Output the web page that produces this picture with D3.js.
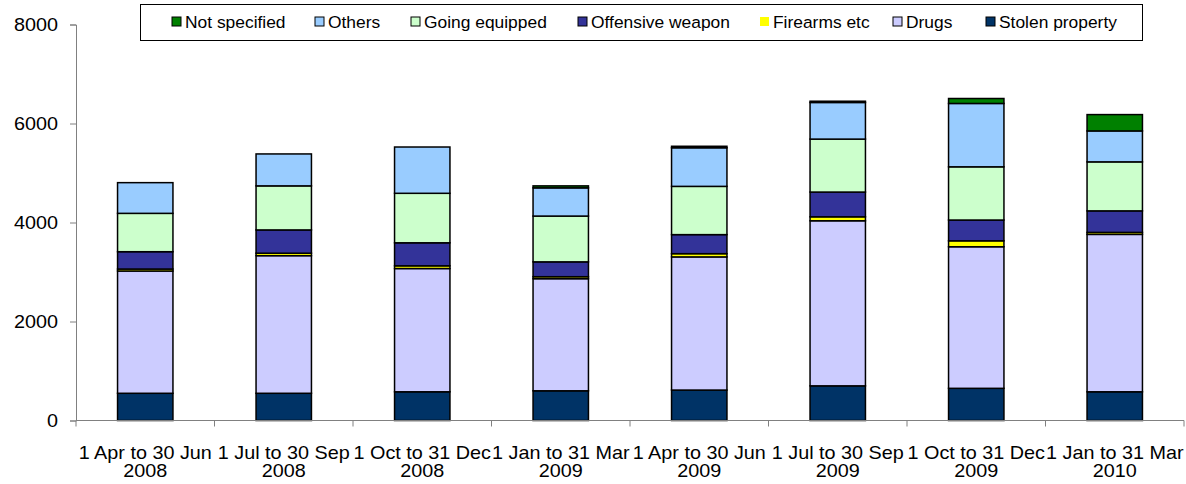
<!DOCTYPE html>
<html><head><meta charset="utf-8">
<script src="https://cdn.jsdelivr.net/npm/d3@7"></script>
<style>body{margin:0;background:#fff}svg{display:block;font-family:"Liberation Sans",Arial,sans-serif}</style>
</head><body><svg id="c" width="1186" height="484"></svg>
<script>
const categories = [["1 Apr to 30 Jun","2008"],["1 Jul to 30 Sep","2008"],["1 Oct to 31 Dec","2008"],["1 Jan to 31 Mar","2009"],["1 Apr to 30 Jun","2009"],["1 Jul to 30 Sep","2009"],["1 Oct to 31 Dec","2009"],["1 Jan to 31 Mar","2010"]];
const stolenProperty = [550, 550, 580, 600, 615, 700, 650, 580];
const drugs          = [2470, 2780, 2490, 2265, 2690, 3335, 2860, 3180];
const firearms       = [40, 50, 55, 40, 65, 80, 120, 40];
const offensiveWeapon= [350, 470, 465, 300, 385, 500, 420, 435];
const goingEquipped  = [775, 890, 1000, 925, 975, 1070, 1075, 990];
const others         = [620, 645, 935, 570, 780, 740, 1280, 625];
const notSpecified   = [0, 0, 0, 40, 30, 25, 100, 330];
const yTicks = [0, 2000, 4000, 6000, 8000];
const seriesNames = ["Stolen property","Drugs","Firearms etc","Offensive weapon","Going equipped","Others","Not specified"];
const seriesColors = ["#003366","#CCCCFF","#FFFF00","#333399","#CCFFCC","#99CCFF","#008000"];
const seriesValues = [stolenProperty, drugs, firearms, offensiveWeapon, goingEquipped, others, notSpecified];

const svg = d3.select("#c");
const mLeft = 76, mRight = 1184, mTop = 24.5, mBottom = 420.5;
const x = d3.scaleBand().domain(d3.range(categories.length)).range([mLeft, mRight]).paddingInner(0.6).paddingOuter(0.3);
const xb = d3.scaleBand().domain(d3.range(categories.length)).range([mLeft, mRight]);
const y = d3.scaleLinear().domain([0, 8000]).range([mBottom, mTop]);

const table = categories.map((c, i) => { const o = {i}; seriesNames.forEach((s, k) => o[s] = seriesValues[k][i]); return o; });
const stack = d3.stack().keys(seriesNames)(table);

svg.append("g").selectAll("g").data(stack).join("g")
  .attr("fill", (d, k) => seriesColors[k])
  .selectAll("rect").data(d => d.filter(p => p[1] - p[0] > 0)).join("rect")
  .attr("x", d => x(d.data.i)).attr("width", x.bandwidth())
  .attr("y", d => y(d[1])).attr("height", d => y(d[0]) - y(d[1]))
  .attr("stroke", "#000").attr("stroke-width", 1.5);

// y axis
const ya = svg.append("g").attr("transform", `translate(${mLeft},0)`)
  .call(d3.axisLeft(y).tickValues(yTicks).tickSize(6).tickPadding(12).tickFormat(d3.format("d")));
ya.selectAll("text").attr("font-size", 18).attr("fill", "#000")
  .attr("font-family", "Liberation Sans, Arial, sans-serif")
  .attr("x", -18 / 1.1).attr("transform", "scale(1.1,1)");
ya.select(".domain").attr("stroke", "#808080");
ya.selectAll(".tick line").attr("stroke", "#808080");

// x axis
const xg = svg.append("g").attr("transform", `translate(0,${mBottom})`);
xg.append("line").attr("x1", mLeft).attr("x2", mRight).attr("stroke", "#808080");
xg.selectAll("line.t").data(d3.range(categories.length + 1)).join("line").attr("class", "t")
  .attr("x1", i => mLeft + i * xb.step()).attr("x2", i => mLeft + i * xb.step())
  .attr("y1", 0).attr("y2", 6).attr("stroke", "#808080");
const lab = xg.selectAll("text").data(categories).join("text")
  .attr("text-anchor", "middle").attr("font-size", 18).attr("fill", "#000")
  .attr("transform", (d, i) => `translate(${xb(i) + xb.bandwidth() / 2},0) scale(1.1,1)`);
lab.append("tspan").attr("x", 0).attr("y", 39).text(d => d[0]);
lab.append("tspan").attr("x", 0).attr("y", 57).text(d => d[1]);

// legend
const lg = svg.append("g");
lg.append("rect").attr("x", 140.5).attr("y", 4.5).attr("width", 1002).attr("height", 36).attr("fill", "#fff").attr("stroke", "#000");
const legOrder = [6, 5, 4, 3, 2, 1, 0];
const legX = [185, 328, 424, 591, 773, 906, 999];
legOrder.forEach((k, j) => {
  lg.append("rect").attr("x", legX[j] - 13).attr("y", 17).attr("width", 9).attr("height", 9)
    .attr("fill", seriesColors[k]).attr("stroke", k === 2 ? "none" : "#000").attr("stroke-width", 1);
  lg.append("text").attr("x", legX[j]).attr("y", 28).attr("font-size", 17.4).attr("fill", "#000").text(seriesNames[k]);
});
</script></body></html>
